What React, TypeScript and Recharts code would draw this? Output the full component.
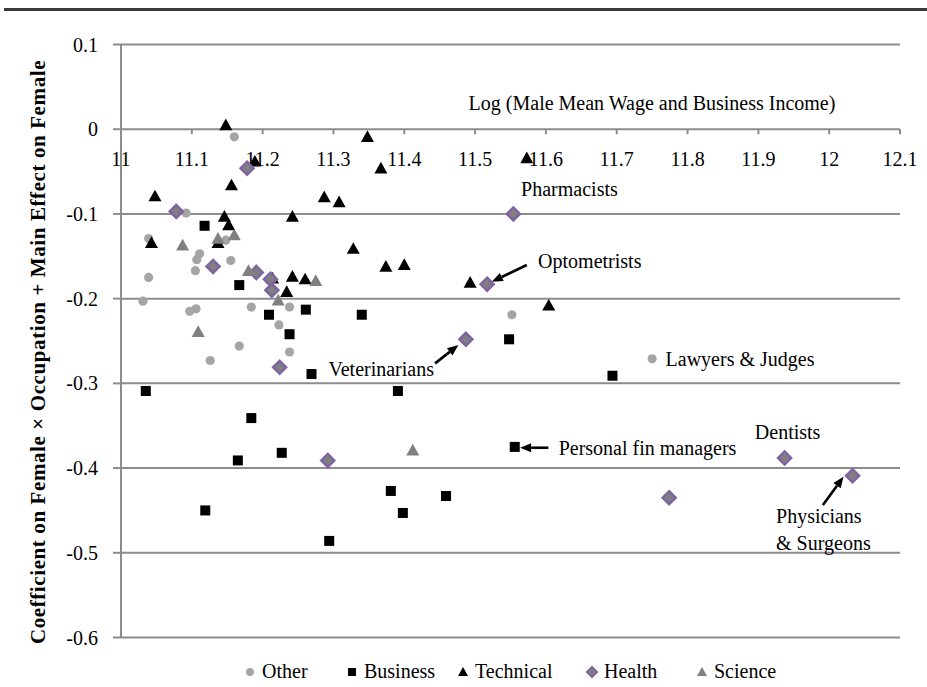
import React from 'react';
import {
  ScatterChart,
  Scatter,
  XAxis,
  YAxis,
  CartesianGrid,
  ReferenceDot,
  ReferenceLine,
} from 'recharts';

// points: x = log male mean wage, y = coefficient
const other = [
  { x: 11.16, y: -0.009 },
  { x: 11.092, y: -0.099 },
  { x: 11.039, y: -0.129 },
  { x: 11.148, y: -0.131 },
  { x: 11.111, y: -0.147 },
  { x: 11.107, y: -0.154 },
  { x: 11.155, y: -0.155 },
  { x: 11.105, y: -0.167 },
  { x: 11.039, y: -0.175 },
  { x: 11.031, y: -0.203 },
  { x: 11.097, y: -0.215 },
  { x: 11.106, y: -0.212 },
  { x: 11.184, y: -0.21 },
  { x: 11.238, y: -0.21 },
  { x: 11.223, y: -0.231 },
  { x: 11.167, y: -0.256 },
  { x: 11.126, y: -0.273 },
  { x: 11.238, y: -0.263 },
  { x: 11.552, y: -0.219 },
  { x: 11.75, y: -0.271 },
];

const business = [
  { x: 11.118, y: -0.114 },
  { x: 11.167, y: -0.184 },
  { x: 11.209, y: -0.219 },
  { x: 11.261, y: -0.213 },
  { x: 11.238, y: -0.242 },
  { x: 11.269, y: -0.289 },
  { x: 11.035, y: -0.309 },
  { x: 11.184, y: -0.341 },
  { x: 11.227, y: -0.382 },
  { x: 11.165, y: -0.391 },
  { x: 11.119, y: -0.45 },
  { x: 11.34, y: -0.219 },
  { x: 11.548, y: -0.248 },
  { x: 11.694, y: -0.291 },
  { x: 11.391, y: -0.309 },
  { x: 11.556, y: -0.375 },
  { x: 11.381, y: -0.427 },
  { x: 11.459, y: -0.433 },
  { x: 11.398, y: -0.453 },
  { x: 11.294, y: -0.486 },
];

const technical = [
  { x: 11.148, y: 0.005 },
  { x: 11.189, y: -0.038 },
  { x: 11.156, y: -0.066 },
  { x: 11.048, y: -0.079 },
  { x: 11.146, y: -0.103 },
  { x: 11.152, y: -0.113 },
  { x: 11.242, y: -0.103 },
  { x: 11.043, y: -0.134 },
  { x: 11.137, y: -0.134 },
  { x: 11.242, y: -0.174 },
  { x: 11.234, y: -0.192 },
  { x: 11.214, y: -0.176 },
  { x: 11.348, y: -0.009 },
  { x: 11.367, y: -0.046 },
  { x: 11.573, y: -0.034 },
  { x: 11.287, y: -0.08 },
  { x: 11.308, y: -0.086 },
  { x: 11.328, y: -0.141 },
  { x: 11.374, y: -0.162 },
  { x: 11.4, y: -0.16 },
  { x: 11.26, y: -0.177 },
  { x: 11.493, y: -0.181 },
  { x: 11.604, y: -0.208 },
];

const health = [
  { x: 11.178, y: -0.046 },
  { x: 11.078, y: -0.097 },
  { x: 11.13, y: -0.162 },
  { x: 11.191, y: -0.169 },
  { x: 11.211, y: -0.177 },
  { x: 11.213, y: -0.19 },
  { x: 11.224, y: -0.281 },
  { x: 11.292, y: -0.391 },
  { x: 11.554, y: -0.1 },
  { x: 11.517, y: -0.183 },
  { x: 11.487, y: -0.248 },
  { x: 11.774, y: -0.435 },
  { x: 11.937, y: -0.388 },
  { x: 12.033, y: -0.409 },
];

const science = [
  { x: 11.087, y: -0.137 },
  { x: 11.137, y: -0.129 },
  { x: 11.16, y: -0.125 },
  { x: 11.18, y: -0.167 },
  { x: 11.222, y: -0.202 },
  { x: 11.109, y: -0.239 },
  { x: 11.275, y: -0.179 },
  { x: 11.412, y: -0.379 },
];

const xTicks = [11, 11.1, 11.2, 11.3, 11.4, 11.5, 11.6, 11.7, 11.8, 11.9, 12, 12.1];
const xTickLabels = ['11', '11.1', '11.2', '11.3', '11.4', '11.5', '11.6', '11.7', '11.8', '11.9', '12', '12.1'];
const yTicks = [0.1, 0, -0.1, -0.2, -0.3, -0.4, -0.5, -0.6];

const notes = [
  { text: 'Pharmacists', x: 11.565, y: -0.071 },
  { text: 'Optometrists', x: 11.589, y: -0.156 },
  { text: 'Veterinarians', x: 11.293, y: -0.283 },
  { text: 'Lawyers & Judges', x: 11.769, y: -0.271 },
  { text: 'Personal fin managers', x: 11.618, y: -0.376 },
  { text: 'Dentists', x: 11.895, y: -0.357 },
  { text: 'Physicians', x: 11.925, y: -0.457 },
  { text: '& Surgeons', x: 11.925, y: -0.489 },
];

const arrows = [
  { x1: 11.573, y1: -0.1603, x2: 11.5236, y2: -0.18 },
  { x1: 11.4435, y1: -0.2764, x2: 11.4764, y2: -0.2548 },
  { x1: 11.6035, y1: -0.376, x2: 11.5636, y2: -0.376 },
  { x1: 11.9911, y1: -0.4437, x2: 12.0202, y2: -0.4103 },
];

const FONT = "'Liberation Serif', 'DejaVu Serif', 'Times New Roman', Times, serif";
const GRID = '#8c8c8c';

const CircleDot = (p: any) => <circle cx={p.cx} cy={p.cy} r={4.6} fill="#a5a5a5" />;
const SquareDot = (p: any) => <rect x={p.cx - 5} y={p.cy - 5} width={10} height={10} fill="#000" />;
const triangle = (color: string, s: number) => (p: any) => (
  <polygon
    points={`${p.cx},${p.cy - s} ${p.cx + s},${p.cy + s * 0.8} ${p.cx - s},${p.cy + s * 0.8}`}
    fill={color}
  />
);
const DiamondDot = (p: any) => (
  <polygon
    points={`${p.cx},${p.cy - 6.5} ${p.cx + 6.5},${p.cy} ${p.cx},${p.cy + 6.5} ${p.cx - 6.5},${p.cy}`}
    fill="#7f7f7f"
    stroke="#8064a2"
    strokeWidth={2.5}
  />
);

const xTickShape = (label: string) => (p: any) => (
  <g>
    <line x1={p.cx} y1={p.cy} x2={p.cx} y2={p.cy + 5} stroke={GRID} strokeWidth={2} />
    <text x={p.cx} y={p.cy + 37} textAnchor="middle" fontSize={20} fontFamily={FONT} fill="#000">
      {label}
    </text>
  </g>
);

const noteShape = (text: string) => (p: any) => (
  <text x={p.cx} y={p.cy} dominantBaseline="central" fontSize={20} fontFamily={FONT} fill="#000">
    {text}
  </text>
);

const arrowShape = (p: any) => {
  const { x1, y1, x2, y2 } = p;
  const a = Math.atan2(y2 - y1, x2 - x1);
  const len = 11;
  const w = 4.5;
  const bx = x2 - len * Math.cos(a);
  const by = y2 - len * Math.sin(a);
  const nx = -Math.sin(a) * w;
  const ny = Math.cos(a) * w;
  return (
    <g>
      <line x1={x1} y1={y1} x2={bx} y2={by} stroke="#000" strokeWidth={2.6} />
      <polygon points={`${x2},${y2} ${bx + nx},${by + ny} ${bx - nx},${by - ny}`} fill="#000" />
    </g>
  );
};

const legendItems = [
  { name: 'Other', left: 243, icon: <circle cx={7} cy={7} r={4} fill="#a5a5a5" /> },
  { name: 'Business', left: 345, icon: <rect x={3} y={3} width={8} height={8} fill="#000" /> },
  { name: 'Technical', left: 456, icon: <polygon points="7,2 12,11 2,11" fill="#000" /> },
  {
    name: 'Health',
    left: 585,
    icon: <polygon points="7,2 12,7 7,12 2,7" fill="#7f7f7f" stroke="#8064a2" strokeWidth={2} />,
  },
  { name: 'Science', left: 695, icon: <polygon points="7,2 12,11 2,11" fill="#808080" /> },
];

export default function App() {
  return (
    <div style={{ position: 'absolute', left: 0, top: 0, width: 927, height: 687, background: '#fff' }}>
      <div style={{ position: 'absolute', left: 4, top: 8, width: 923, height: 3, background: '#3a3a3a' }} />
      <ScatterChart width={927} height={687} margin={{ top: 44.5, right: 27, bottom: 49.5, left: 0 }}>
        <CartesianGrid horizontal vertical={false} stroke={GRID} strokeWidth={2} />
        <XAxis type="number" dataKey="x" domain={[11, 12.1]} hide />
        <YAxis
          type="number"
          dataKey="y"
          domain={[-0.6, 0.1]}
          ticks={yTicks}
          width={121}
          interval={0}
          axisLine={{ stroke: GRID, strokeWidth: 2 }}
          tickLine={{ stroke: GRID, strokeWidth: 2 }}
          tickSize={8}
          tickMargin={15}
          tickFormatter={(v: number) => String(v)}
          tick={{ fill: '#000', fontSize: 20, fontFamily: FONT }}
        />
        {xTicks.map((t, i) => (
          <ReferenceDot key={'xt' + t} x={t} y={0} r={0} shape={xTickShape(xTickLabels[i])} />
        ))}
        {notes.map((n) => (
          <ReferenceDot key={n.text} x={n.x} y={n.y} r={0} shape={noteShape(n.text)} />
        ))}
        {arrows.map((a, i) => (
          <ReferenceLine
            key={'ar' + i}
            segment={[
              { x: a.x1, y: a.y1 },
              { x: a.x2, y: a.y2 },
            ]}
            shape={arrowShape}
          />
        ))}
        <Scatter name="Other" data={other} shape={CircleDot} isAnimationActive={false} />
        <Scatter name="Business" data={business} shape={SquareDot} isAnimationActive={false} />
        <Scatter name="Technical" data={technical} shape={triangle('#000', 6.5)} isAnimationActive={false} />
        <Scatter name="Health" data={health} shape={DiamondDot} isAnimationActive={false} />
        <Scatter name="Science" data={science} shape={triangle('#808080', 6.5)} isAnimationActive={false} />
      </ScatterChart>
      <div
        style={{
          position: 'absolute',
          left: 652,
          top: 103,
          transform: 'translate(-50%, -50%)',
          whiteSpace: 'nowrap',
          fontFamily: FONT,
          fontSize: 20,
        }}
      >
        Log (Male Mean Wage and Business Income)
      </div>
      <div
        style={{
          position: 'absolute',
          left: 38,
          top: 352,
          transform: 'translate(-50%, -50%) rotate(-90deg)',
          whiteSpace: 'nowrap',
          fontFamily: FONT,
          fontSize: 21,
          letterSpacing: 0.6,
          fontWeight: 'bold',
        }}
      >
        Coefficient on Female × Occupation + Main Effect on Female
      </div>
      {legendItems.map((l) => (
        <div
          key={l.name}
          style={{
            position: 'absolute',
            left: l.left,
            top: 660,
            display: 'flex',
            alignItems: 'center',
            fontFamily: FONT,
            fontSize: 20,
            whiteSpace: 'nowrap',
          }}
        >
          <svg width={14} height={14} style={{ marginRight: 5 }}>
            {l.icon}
          </svg>
          {l.name}
        </div>
      ))}
    </div>
  );
}
